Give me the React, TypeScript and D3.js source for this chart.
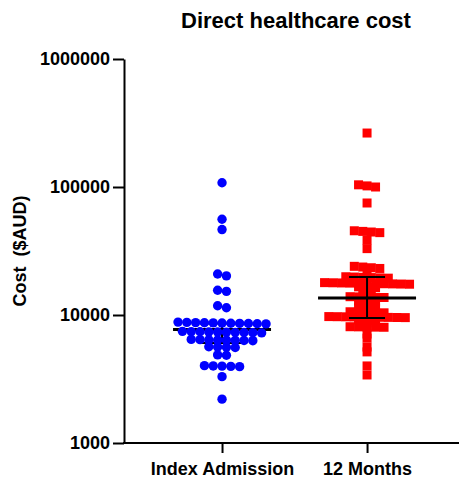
import React, { useRef, useEffect } from 'react';
import * as d3 from 'd3';

// Groups on the x axis
const categories = ['Index Admission', '12 Months'];

// Direct cost per patient ($AUD) (top to bottom)
const indexAdmission = [
  108000, 56000, 46500,
  20900, 20200,
  15600, 15300,
  11800, 11400,
  8800, 8750, 8720, 8700, 8680, 8650, 8620, 8600, 8580, 8550, 8520,
  7450, 7420, 7400, 7380, 7360, 7340, 7320, 7300, 7280, 7250,
  6450, 6420, 6400, 6380, 6360, 6340, 6320, 6300,
  5650, 5620, 5600, 5570,
  4880, 4850,
  4020, 4000, 3990, 3970, 3950,
  3300, 2200,
];

const twelveMonths = [
  264000,
  104000, 102000, 100000,
  75000,
  45500, 45000, 44500, 44000,
  38500, 33000,
  24000, 23700, 23400, 23100,
  21300,
  19900, 19800, 19700, 19600, 19500, 19400,
  17900, 17850, 17800, 17750, 17700, 17650, 17600, 17550, 17500, 17450, 17400,
  16600, 16500, 16400,
  15500, 15400,
  13900, 13850, 13800, 13750, 13700,
  12900, 12850, 12800,
  12000, 11950,
  11400, 11350, 11300,
  10600, 10550, 10500, 10450, 10400,
  9720, 9700, 9680, 9660, 9640, 9620, 9600, 9580, 9560, 9540,
  9200, 9150, 9100,
  8660,
  8100, 8080, 8060, 8040, 8020,
  7100, 6600, 5620, 5150, 4000, 3400,
];

// Median and interquartile range per group
const medians = [7700, 13600];
const lowerQuartiles = [6050, 9470];
const upperQuartiles = [8600, 19800];

const yTicks = [1000, 10000, 100000, 1000000];

const width = 460;
const height = 479;
const margin = { top: 59, right: 1, bottom: 36, left: 124 };

// GraphPad-style scatter: points close in y share a row, rows are centred
function rowLayout(ys: number[], tol: number, step: number): number[] {
  const order = ys.map((_, i) => i).sort((a, b) => ys[a] - ys[b]);
  const xs = new Array(ys.length).fill(0);
  let row: number[] = [];
  const flush = () => {
    row.forEach((idx, k) => {
      xs[idx] = (k - (row.length - 1) / 2) * step;
    });
    row = [];
  };
  order.forEach(i => {
    if (row.length && ys[i] - ys[row[0]] > tol) flush();
    row.push(i);
  });
  flush();
  return xs;
}

const App = () => {
  const svgRef = useRef<SVGSVGElement>(null);

  useEffect(() => {
    document.body.style.margin = '0';
    const svg = d3.select(svgRef.current);
    svg.selectAll('*').remove();

    const x = d3.scalePoint<string>()
      .domain(categories)
      .range([margin.left, width - margin.right])
      .padding(0.655)
      .align(0.516);

    const y = d3.scaleLog()
      .domain([1000, 1000000])
      .range([height - margin.bottom, margin.top]);

    const font = '"Liberation Sans", Arial, sans-serif';

    // Title
    svg.append('text')
      .attr('x', 296)
      .attr('y', 28)
      .attr('text-anchor', 'middle')
      .style('font-family', font)
      .style('font-weight', 'bold')
      .style('font-size', '22px')
      .text('Direct healthcare cost');

    // Y axis
    const yAxis = svg.append('g')
      .attr('transform', `translate(${margin.left},0)`)
      .call(d3.axisLeft(y)
        .tickValues(yTicks)
        .tickFormat(d3.format('d'))
        .tickSize(11)
        .tickSizeOuter(0)
        .tickPadding(3));
    yAxis.selectAll('path, line').attr('stroke', '#000').attr('stroke-width', 2);
    yAxis.selectAll('text')
      .attr('fill', '#000')
      .style('font-family', font)
      .style('font-weight', 'bold')
      .style('font-size', '18px');

    // X axis
    const xAxis = svg.append('g')
      .attr('transform', `translate(0,${height - margin.bottom})`)
      .call(d3.axisBottom(x)
        .tickSize(10)
        .tickSizeOuter(0)
        .tickPadding(9));
    xAxis.select('.domain').attr('d', `M${margin.left - 1},0H${width - margin.right}`);
    xAxis.selectAll('path, line').attr('stroke', '#000').attr('stroke-width', 2);
    xAxis.selectAll('text')
      .attr('fill', '#000')
      .style('font-family', font)
      .style('font-weight', 'bold')
      .style('font-size', '18px');

    // Y axis label
    svg.append('text')
      .attr('transform', `translate(26,${(margin.top + height - margin.bottom) / 2}) rotate(-90)`)
      .attr('text-anchor', 'middle')
      .style('font-family', font)
      .style('font-weight', 'bold')
      .style('font-size', '18px')
      .style('white-space', 'pre')
      .text('Cost  ($AUD)');

    const drawStats = (i: number, capHalf: number) => {
      const cx = x(categories[i]) as number;
      const g = svg.append('g').attr('stroke', '#000');
      g.append('line')
        .attr('x1', cx).attr('x2', cx)
        .attr('y1', y(lowerQuartiles[i])).attr('y2', y(upperQuartiles[i]))
        .attr('stroke-width', 2);
      [lowerQuartiles[i], upperQuartiles[i]].forEach(v => {
        g.append('line')
          .attr('x1', cx - capHalf).attr('x2', cx + capHalf)
          .attr('y1', y(v)).attr('y2', y(v))
          .attr('stroke-width', 2);
      });
      g.append('line')
        .attr('x1', cx - 49).attr('x2', cx + 49)
        .attr('y1', y(medians[i])).attr('y2', y(medians[i]))
        .attr('stroke-width', 3);
    };

    // Index admission: bars beneath, blue dots on top
    drawStats(0, 22);
    const cx0 = x(categories[0]) as number;
    const ys0 = indexAdmission.map(v => y(v));
    const xs0 = rowLayout(ys0, 2.5, 8.8);
    svg.append('g')
      .selectAll('circle')
      .data(indexAdmission)
      .join('circle')
      .attr('cx', (_, i) => cx0 + xs0[i])
      .attr('cy', (_, i) => ys0[i])
      .attr('r', 4.7)
      .attr('fill', '#0000ff');

    // 12 months: red squares, bars on top
    const cx1 = x(categories[1]) as number;
    const ys1 = twelveMonths.map(v => y(v));
    const xs1 = rowLayout(ys1, 2.5, 8.5);
    const s = 9;
    svg.append('g')
      .selectAll('rect')
      .data(twelveMonths)
      .join('rect')
      .attr('x', (_, i) => cx1 + xs1[i] - s / 2)
      .attr('y', (_, i) => ys1[i] - s / 2)
      .attr('width', s)
      .attr('height', s)
      .attr('fill', '#ff0000');
    drawStats(1, 18);
  }, []);

  return <svg ref={svgRef} width={width} height={height} style={{ display: 'block' }} />;
};

export default App;
